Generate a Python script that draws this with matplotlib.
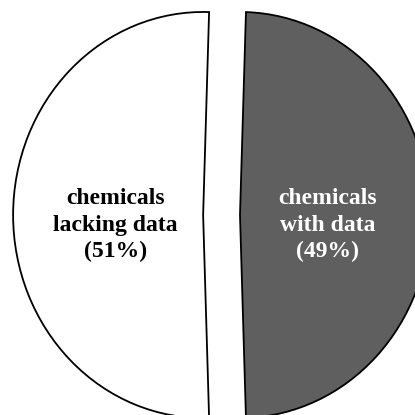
import matplotlib
matplotlib.use("Agg")
from matplotlib import pyplot as plt

# slice data
labels = ["chemicals\nlacking data\n(51%)", "chemicals\nwith data\n(49%)"]
shares = [51, 49]
colors = ["#ffffff", "#5f5f5f"]
text_colors = ["black", "white"]

fig = plt.figure(figsize=(4.15, 4.15), dpi=100)
ax = fig.add_axes([0, 0, 1, 1])

wedges, texts = ax.pie(shares, labels=labels, colors=colors,
                       startangle=88.2, counterclock=True,
                       explode=[0.097, 0.097],
                       labeldistance=0.46,
                       wedgeprops={'edgecolor': 'black', 'linewidth': 1.3},
                       textprops={'family': 'Liberation Serif', 'weight': 'bold',
                                  'fontsize': 17, 'linespacing': 1.35})
for t, c in zip(texts, text_colors):
    t.set_color(c)
    t.set_ha('center')
    t.set_va('center')
    x, y = t.get_position()
    t.set_position((x, y - 0.05))

# pie is drawn slightly stretched vertically and cropped at the edges
ax.set_aspect('auto')
ax.set_xlim(-1.166, 1.018)
ax.set_ylim(-0.985, 1.059)
ax.axis('off')

plt.savefig('out.png', dpi=100)
